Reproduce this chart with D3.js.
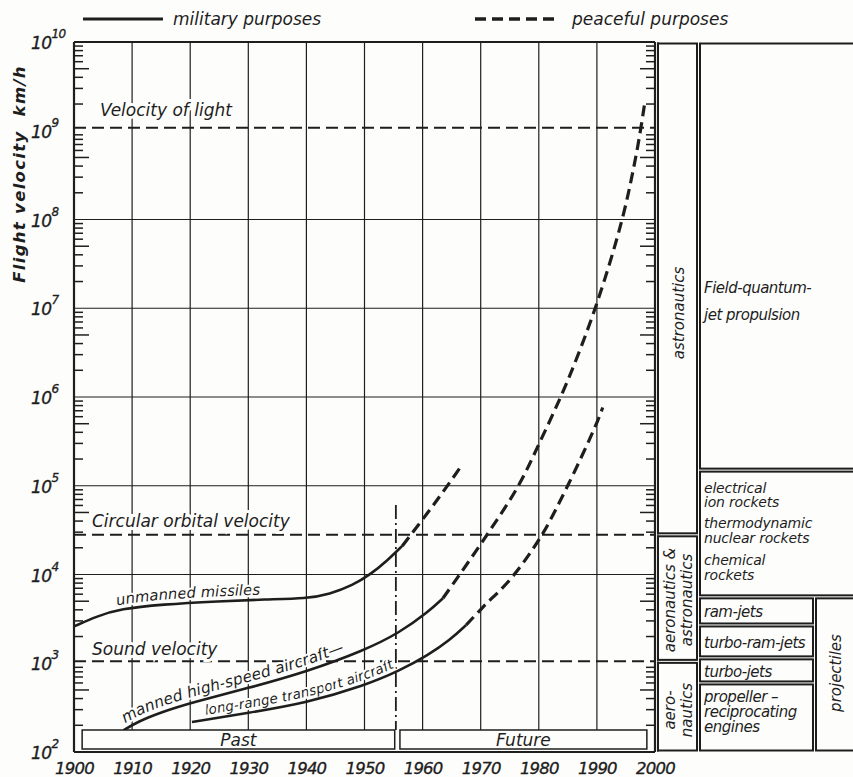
<!DOCTYPE html>
<html>
<head>
<meta charset="utf-8">
<script src="https://cdn.jsdelivr.net/npm/d3@7"></script>
<style>
  body { margin: 0; background: #fdfdfb; }
  svg { display: block; font-family: "DejaVu Sans", sans-serif; font-style: italic; }
</style>
</head>
<body>
<svg id="chart" width="853" height="777"></svg>
<script>
// ---- data ----
const tickYears = [1900, 1910, 1920, 1930, 1940, 1950, 1960, 1970, 1980, 1990, 2000];
const gridYears = [1910, 1920, 1930, 1940, 1950, 1960, 1970, 1980, 1990];
const decadeExps = [2, 3, 4, 5, 6, 7, 8, 9, 10];
const gridDecades = [1e4, 1e5, 1e6, 1e7, 1e8];
const minorSteps = [2, 3, 4, 5, 6, 7, 8, 9];

const refNames = ['Velocity of light', 'Circular orbital velocity', 'Sound velocity'];
const refKmh = [1.08e9, 28000, 1050];

// unmanned missiles
const missileMilYears = [1900, 1904, 1908, 1915, 1925, 1933, 1940, 1944, 1948, 1951, 1954, 1956.5];
const missileMilKmh = [2600, 3400, 4100, 4600, 5000, 5250, 5350, 6000, 7600, 10000, 14500, 21000];
const missilePeaceYears = [1956.5, 1960.8, 1963.5, 1966.4];
const missilePeaceKmh = [21000, 49000, 85000, 158000];

// manned high-speed aircraft
const mannedMilYears = [1908.5, 1911, 1915, 1920, 1930, 1940, 1950, 1956, 1961, 1963.5];
const mannedMilKmh = [175, 220, 280, 357, 525, 800, 1400, 2200, 3800, 5400];
const mannedPeaceYears = [1963.5, 1970.7, 1976.4, 1980.6, 1985, 1989.7, 1994.3, 1996.9, 1998.3];
const mannedPeaceKmh = [5400, 25700, 98000, 355000, 1.55e6, 1e7, 9.8e7, 6e8, 2.2e9];

// long-range transport aircraft
const transportMilYears = [1920.3, 1930, 1940, 1950, 1956, 1961, 1964.7, 1967.5];
const transportMilKmh = [218, 276, 357, 560, 820, 1240, 1820, 2700];
const transportPeaceYears = [1967.5, 1970.4, 1975, 1980.2, 1984.9, 1990, 1991];
const transportPeaceKmh = [2700, 4300, 8700, 25700, 98000, 515000, 760000];

const seriesNames = ['unmanned missiles', 'manned high-speed aircraft\u2014', 'long-range transport aircraft'];

const periodNames = ['Past', 'Future'];
const periodStart = [1901.4, 1956.1];
const periodEnd = [1955.2, 1998.6];
const presentYear = 1955.4;

// right-hand panel: velocity ranges (km/h)
const regimeNames = [['astronautics'], ['aeronautics &', 'astronautics'], ['aero-', 'nautics']];
const regimeLow = [28000, 1050, 100];
const regimeHigh = [1e10, 28000, 1050];

const engineNames = [
  ['Field-quantum-', 'jet propulsion'],
  ['electrical', 'ion rockets', 'thermodynamic', 'nuclear rockets', 'chemical', 'rockets'],
  ['ram-jets'], ['turbo-ram-jets'], ['turbo-jets'],
  ['propeller \u2013', 'reciprocating', 'engines']
];
const engineLow = [150000, 5600, 2700, 1150, 600, 100];
const engineHigh = [1e10, 150000, 5600, 2700, 1150, 600];
const projectileLow = 100, projectileHigh = 5600;

// ---- scales ----
const x = d3.scaleLinear().domain([1900, 2000]).range([74, 655]);
const y = d3.scaleLog().domain([1e2, 1e10]).range([752, 42]);
const ink = '#1e1e1e';
const paper = '#fdfdfb';

const svg = d3.select('#chart');
svg.append('rect').attr('width', 853).attr('height', 777).attr('fill', paper);

const g = svg.append('g');

// grid
g.selectAll('.vgrid').data(gridYears).join('line')
  .attr('x1', d => x(d)).attr('x2', d => x(d))
  .attr('y1', y(1e10)).attr('y2', 730)
  .attr('stroke', ink).attr('stroke-width', 1.2);
g.selectAll('.hgrid').data(gridDecades).join('line')
  .attr('x1', x(1900)).attr('x2', x(2000))
  .attr('y1', d => y(d)).attr('y2', d => y(d))
  .attr('stroke', ink).attr('stroke-width', 1.2);

// reference velocities
g.selectAll('.ref').data(refKmh).join('line')
  .attr('x1', x(1900)).attr('x2', x(2000))
  .attr('y1', d => y(d)).attr('y2', d => y(d))
  .attr('stroke', ink).attr('stroke-width', 2)
  .attr('stroke-dasharray', '12,6');

const refLabelX = [100, 92, 92];
const refLabelDy = [-12, -8, -6];
g.selectAll('.refLabel').data(refNames).join('text')
  .attr('x', (d, i) => refLabelX[i])
  .attr('y', (d, i) => y(refKmh[i]) + refLabelDy[i])
  .attr('font-size', 17)
  .attr('fill', ink)
  .attr('stroke', paper).attr('stroke-width', 6).attr('paint-order', 'stroke')
  .text(d => d);

// present divider (dash-dot)
g.append('line')
  .attr('x1', x(presentYear)).attr('x2', x(presentYear))
  .attr('y1', 505).attr('y2', 730)
  .attr('stroke', ink).attr('stroke-width', 1.8)
  .attr('stroke-dasharray', '14,4,2,4');

// curves
const milLine = d3.line().x(d => x(d[0])).y(d => y(d[1])).curve(d3.curveBasis);
const peaceLine = d3.line().x(d => x(d[0])).y(d => y(d[1])).curve(d3.curveCatmullRom.alpha(0.5));
const milSets = [
  d3.zip(missileMilYears, missileMilKmh),
  d3.zip(mannedMilYears, mannedMilKmh),
  d3.zip(transportMilYears, transportMilKmh)
];
const peaceSets = [
  d3.zip(missilePeaceYears, missilePeaceKmh),
  d3.zip(mannedPeaceYears, mannedPeaceKmh),
  d3.zip(transportPeaceYears, transportPeaceKmh)
];

// label baselines: the solid curves lifted a few pixels
const labelLift = [5, 6, 5];
const labelOffset = [46, 2, 14];
const labelSize = [14.8, 15.5, 13.6];
const defs = svg.append('defs');
milSets.forEach((pts, i) => {
  const lifted = d3.line().x(d => x(d[0])).y(d => y(d[1]) - labelLift[i]).curve(d3.curveBasis);
  defs.append('path').attr('id', 'lbl' + i).attr('d', lifted(pts));
});

g.selectAll('.curveLabel').data(seriesNames).join('text')
  .attr('font-size', (d, i) => labelSize[i]).attr('fill', ink)
  .attr('stroke', paper).attr('stroke-width', 4).attr('paint-order', 'stroke')
  .append('textPath')
  .attr('href', (d, i) => '#lbl' + i)
  .attr('startOffset', (d, i) => labelOffset[i])
  .text(d => d);

g.selectAll('.mil').data(milSets).join('path')
  .attr('d', milLine).attr('fill', 'none')
  .attr('stroke', ink).attr('stroke-width', 2.6);
g.selectAll('.peace').data(peaceSets).join('path')
  .attr('d', peaceLine).attr('fill', 'none')
  .attr('stroke', ink).attr('stroke-width', 3.2)
  .attr('stroke-dasharray', '11,6');

// past / future boxes
g.selectAll('.period').data(periodNames).join('rect')
  .attr('x', (d, i) => x(periodStart[i]))
  .attr('width', (d, i) => x(periodEnd[i]) - x(periodStart[i]))
  .attr('y', 730).attr('height', 19)
  .attr('fill', paper).attr('stroke', ink).attr('stroke-width', 1.5);
g.selectAll('.periodLabel').data(periodNames).join('text')
  .attr('x', (d, i) => (x(periodStart[i]) + x(periodEnd[i])) / 2)
  .attr('y', 746).attr('text-anchor', 'middle')
  .attr('font-size', 17).attr('fill', ink)
  .text(d => d);

// frame
g.append('line').attr('x1', x(1900)).attr('x2', x(2000)).attr('y1', y(1e10)).attr('y2', y(1e10))
  .attr('stroke', ink).attr('stroke-width', 2);
g.append('line').attr('x1', x(1900)).attr('x2', x(2000)).attr('y1', y(1e2)).attr('y2', y(1e2))
  .attr('stroke', ink).attr('stroke-width', 2);
g.append('line').attr('x1', x(1900)).attr('x2', x(1900)).attr('y1', y(1e10)).attr('y2', y(1e2))
  .attr('stroke', ink).attr('stroke-width', 2.2);
g.append('line').attr('x1', x(2000)).attr('x2', x(2000)).attr('y1', y(1e10)).attr('y2', y(1e2))
  .attr('stroke', ink).attr('stroke-width', 2.2);
g.append('line').attr('x1', x(2000) + 3).attr('x2', x(2000) + 3).attr('y1', y(1e10)).attr('y2', y(1e2))
  .attr('stroke', ink).attr('stroke-width', 1);

// minor log ticks on both vertical axes
const minorVals = [];
decadeExps.slice(0, -1).forEach(e => minorSteps.forEach(k => minorVals.push(k * Math.pow(10, e))));
const tickLen = d => (Math.round(d / Math.pow(10, Math.floor(Math.log10(d) + 1e-9))) === 5 ? 15 : 9);
g.selectAll('.tickL').data(minorVals).join('line')
  .attr('x1', x(1900)).attr('x2', d => x(1900) + tickLen(d))
  .attr('y1', d => y(d)).attr('y2', d => y(d))
  .attr('stroke', ink).attr('stroke-width', 1.5);
g.selectAll('.tickR').data(minorVals).join('line')
  .attr('x1', x(2000)).attr('x2', d => x(2000) - tickLen(d))
  .attr('y1', d => y(d)).attr('y2', d => y(d))
  .attr('stroke', ink).attr('stroke-width', 1.5);

// x axis labels
const xAxis = d3.axisBottom(x).tickValues(tickYears).tickFormat(d3.format('d')).tickSize(0).tickPadding(10);
const xg = svg.append('g').attr('transform', `translate(0,${y(1e2)})`).call(xAxis);
xg.select('.domain').remove();
xg.selectAll('text').attr('font-size', 16.5).attr('fill', ink)
  .attr('font-family', '"DejaVu Sans", sans-serif').attr('font-style', 'italic')
  .attr('letter-spacing', -0.8)
  .attr('stroke', ink).attr('stroke-width', 0.35);

// y axis labels 10^n
const yl = g.selectAll('.ylab').data(decadeExps).join('text')
  .attr('x', 31).attr('y', d => y(Math.pow(10, d)) + 7)
  .attr('font-size', 17).attr('fill', ink).attr('letter-spacing', -0.6)
  .attr('stroke', ink).attr('stroke-width', 0.35);
yl.append('tspan').text('10');
yl.append('tspan').attr('dy', -11).attr('font-size', 12).text(d => d);

// y axis title
svg.append('text')
  .attr('transform', 'translate(25,174) rotate(-90)')
  .attr('text-anchor', 'middle').attr('font-size', 16.5).attr('font-weight', 'bold').attr('fill', ink)
  .attr('letter-spacing', 1.3)
  .attr('xml:space', 'preserve')
  .text('Flight velocity  km/h');

// ---- right panel ----
const regimeX0 = 658, regimeX1 = 697, engineX0 = 700, engineX1 = 813, projX0 = 816;
function box(x0, x1, hi, lo) {
  g.append('rect')
    .attr('x', x0).attr('y', y(hi) + 1.5)
    .attr('width', x1 - x0).attr('height', y(lo) - y(hi) - 3)
    .attr('fill', 'none').attr('stroke', ink).attr('stroke-width', 2);
}
regimeNames.forEach((n, i) => box(regimeX0, regimeX1, regimeHigh[i], regimeLow[i]));
engineNames.forEach((n, i) => box(engineX0, i < 2 ? 860 : engineX1, engineHigh[i], engineLow[i]));
box(projX0, 860, projectileHigh, projectileLow);

// regime labels (rotated)
const regimeCenter = [313, 600, 710];
regimeNames.forEach((lines, i) => {
  const n = lines.length;
  lines.forEach((t, j) => {
    const cx = (regimeX0 + regimeX1) / 2 + (j - (n - 1) / 2) * 17 + 6;
    g.append('text')
      .attr('transform', `translate(${cx},${regimeCenter[i]}) rotate(-90)`)
      .attr('text-anchor', 'middle').attr('font-size', 15).attr('fill', ink)
      .text(t);
  });
});

// engine labels
const engineTextY = [[293, 320], [493, 507, 528, 543, 565, 580], [617], [648], [677], [702, 717, 732]];
engineNames.forEach((lines, i) => {
  lines.forEach((t, j) => {
    g.append('text')
      .attr('x', engineX0 + 4).attr('y', engineTextY[i][j])
      .attr('font-size', i === 1 ? 14 : 15).attr('fill', ink)
      .attr('letter-spacing', i === 1 ? -0.2 : -0.5)
      .text(t);
  });
});
g.append('text')
  .attr('transform', `translate(${projX0 + 25},673) rotate(-90)`)
  .attr('text-anchor', 'middle').attr('font-size', 15).attr('fill', ink)
  .text('projectiles');

// ---- legend ----
svg.append('line').attr('x1', 83).attr('x2', 163).attr('y1', 19).attr('y2', 19)
  .attr('stroke', ink).attr('stroke-width', 3);
svg.append('text').attr('x', 173).attr('y', 25).attr('font-size', 17).attr('fill', ink)
  .text('military purposes');
svg.append('line').attr('x1', 475).attr('x2', 558).attr('y1', 19).attr('y2', 19)
  .attr('stroke', ink).attr('stroke-width', 3.5).attr('stroke-dasharray', '11,6');
svg.append('text').attr('x', 572).attr('y', 25).attr('font-size', 17).attr('fill', ink)
  .text('peaceful purposes');
</script>
</body>
</html>
